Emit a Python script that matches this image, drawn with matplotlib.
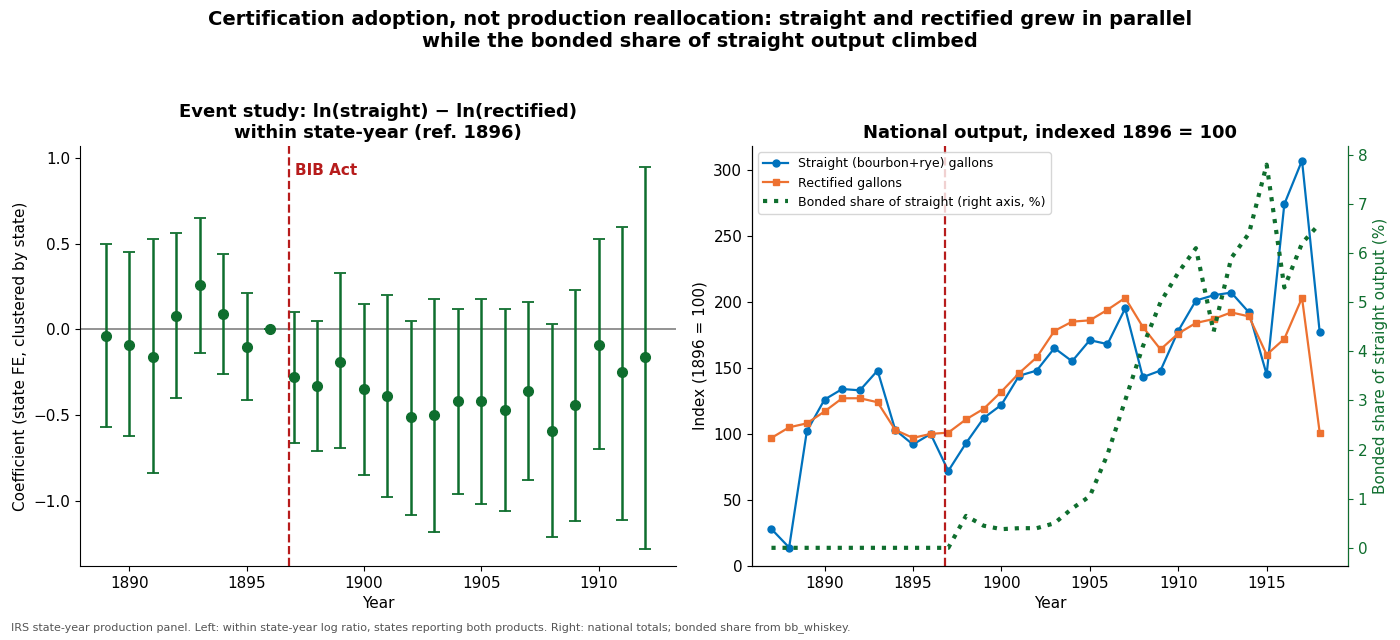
import matplotlib.pyplot as plt
import numpy as np

# Event study (left)
es_years = list(range(1889, 1913))
es_coef = [-0.04, -0.09, -0.16, 0.08, 0.26, 0.09, -0.10, 0.0, -0.28, -0.33, -0.19, -0.35,
           -0.39, -0.51, -0.50, -0.42, -0.42, -0.47, -0.36, -0.59, -0.44, -0.09, -0.25, -0.16]
es_lo = [-0.57, -0.62, -0.84, -0.40, -0.14, -0.26, -0.41, 0.0, -0.66, -0.71, -0.69, -0.85,
         -0.98, -1.08, -1.18, -0.96, -1.02, -1.06, -0.88, -1.21, -1.12, -0.70, -1.11, -1.28]
es_hi = [0.50, 0.45, 0.53, 0.56, 0.65, 0.44, 0.21, 0.0, 0.10, 0.05, 0.33, 0.15,
         0.20, 0.05, 0.18, 0.12, 0.18, 0.12, 0.16, 0.03, 0.23, 0.53, 0.60, 0.95]

# National output (right)
years = list(range(1887, 1919))
straight = [28, 14, 102, 126, 134, 133, 148, 103, 92, 100, 72, 93, 112, 122, 144, 148,
            165, 155, 171, 168, 195, 143, 148, 178, 201, 205, 207, 192, 145, 274, 307, 177]
rectified = [97, 105, 108, 117, 127, 127, 124, 103, 97, 100, 101, 111, 119, 132, 146, 158,
             178, 185, 186, 194, 203, 181, 164, 176, 184, 187, 192, 189, 160, 172, 203, 101]
bonded = [0, 0, 0, 0, 0, 0, 0, 0, 0, 0, 0, 0.65, 0.45, 0.38, 0.40, 0.40,
          0.50, 0.80, 1.05, 1.9, 3.0, 4.1, 5.0, 5.6, 6.1, 4.4, 5.9, 6.4, 7.8, 5.3, 6.2, 6.6]

green = '#0f6e2e'
red = '#b71c1c'

fig = plt.figure(figsize=(14, 6.4), dpi=100)
ax1 = fig.add_axes([80/1400, 1-566/640, 596/1400, 420/640])
ax2 = fig.add_axes([752/1400, 1-566/640, 596/1400, 420/640])

c = np.array(es_coef)
yerr = [c - np.array(es_lo), np.array(es_hi) - c]
ax1.axhline(0, color='grey', lw=1.2)
ax1.errorbar(es_years, es_coef, yerr=yerr, fmt='o', color=green, ms=7, capsize=4, lw=1.8, capthick=1.3)
ax1.axvline(1896.8, color=red, ls='--', lw=1.6)
ax1.text(1897.05, 0.9, 'BIB Act', color=red, fontweight='bold', fontsize=11)
ax1.set_xlim(1887.9, 1913.3)
ax1.set_ylim(-1.38, 1.07)
ax1.set_xlabel('Year', fontsize=11)
ax1.set_ylabel('Coefficient (state FE, clustered by state)', fontsize=11)
ax1.set_title('Event study: ln(straight) \u2212 ln(rectified)\nwithin state-year (ref. 1896)', fontsize=13, fontweight='bold')
ax1.spines['top'].set_visible(False)
ax1.spines['right'].set_visible(False)
ax1.tick_params(labelsize=11)

l1, = ax2.plot(years, straight, '-o', color='#0072bd', ms=5, lw=1.6, label='Straight (bourbon+rye) gallons')
l2, = ax2.plot(years, rectified, '-s', color='#ed7130', ms=5, lw=1.6, label='Rectified gallons')
ax2.axvline(1896.8, color=red, ls='--', lw=1.6)
ax2.set_xlim(1885.9, 1919.6)
ax2.set_ylim(0, 318)
ax2.set_xlabel('Year', fontsize=11)
ax2.set_ylabel('Index (1896 = 100)', fontsize=11)
ax2.set_title('National output, indexed 1896 = 100', fontsize=13, fontweight='bold')
ax2.tick_params(labelsize=11)
ax2.spines['top'].set_visible(False)

ax3 = ax2.twinx()
l3, = ax3.plot(years, bonded, ':', color=green, lw=3, label='Bonded share of straight (right axis, %)')
ax3.set_ylim(-0.37, 8.18)
ax3.set_ylabel('Bonded share of straight output (%)', color=green, fontsize=11)
ax3.tick_params(axis='y', colors=green, labelsize=11)
ax3.spines['right'].set_color(green)
ax3.spines['top'].set_visible(False)
ax2.legend(handles=[l1, l2, l3], loc='upper left', fontsize=9)

fig.suptitle('Certification adoption, not production reallocation: straight and rectified grew in parallel\n'
             'while the bonded share of straight output climbed', fontsize=14, fontweight='bold', y=0.985)
fig.text(0.008, 0.015, 'IRS state-year production panel. Left: within state-year log ratio, states reporting both products. '
         'Right: national totals; bonded share from bb_whiskey.', fontsize=8, color='#555555')
fig.savefig('out.png', dpi=100)
